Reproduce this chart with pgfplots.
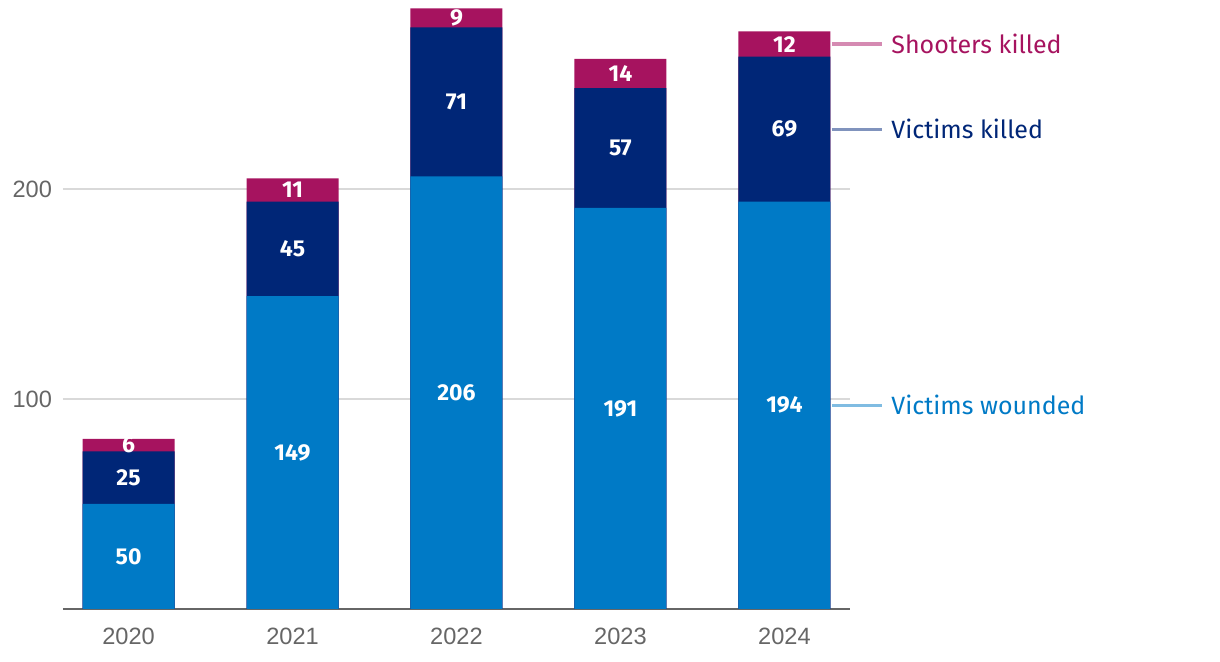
\documentclass[border=0pt]{standalone}
\usepackage{pgfplots}
\pgfplotsset{compat=1.18}
\usepackage{pgfplotstable}
\usepackage{fontspec}
\setmainfont{Liberation Sans}
\newfontfamily\lab{Fira Sans}
\definecolor{cwound}{HTML}{007AC6}
\definecolor{ckill}{HTML}{002677}
\definecolor{cshoot}{HTML}{A6135F}
\definecolor{lwound}{HTML}{80BCE2}
\definecolor{lkill}{HTML}{8093BD}
\definecolor{lshoot}{HTML}{D58AB2}
\definecolor{tickgray}{HTML}{666666}
\definecolor{gridgray}{HTML}{D9D9D9}

\pgfplotstableread{
x w k s
0 50 25 6
1 149 45 11
2 206 71 9
3 191 57 14
4 194 69 12
}\data

\begin{document}
\begin{tikzpicture}[x=1pt,y=1pt]
\path[use as bounding box] (-31.5,-26.5) rectangle (578.5,304.5);
\begin{axis}[
  at={(0,0)}, anchor=south west,
  scale only axis, width=393.5pt, height=304.5pt,
  xmin=-0.4, xmax=4.4, ymin=0, ymax=290,
  clip=false,
  /pgf/number format/assume math mode=true,
  axis x line*=bottom, axis y line*=left,
  x axis line style={draw=tickgray, line width=1pt, -},
  y axis line style={draw=none},
  tick style={draw=none},
  xtick={0,1,2,3,4}, xticklabels={2020,2021,2022,2023,2024},
  ytick={100,200},
  ymajorgrids, grid style={gridgray, line width=0.6pt},
  ticklabel style={text=tickgray, font=\fontsize{11.8}{14}\selectfont},
  xticklabel style={yshift=-6pt},
  yticklabel style={xshift=-2pt},
]
\addplot[ybar, bar width=46pt, bar shift=0pt, fill=cshoot, draw=none]
  table[x=x, y expr=\thisrow{w}+\thisrow{k}+\thisrow{s}] {\data};
\addplot[ybar, bar width=46pt, bar shift=0pt, fill=ckill, draw=none]
  table[x=x, y expr=\thisrow{w}+\thisrow{k}] {\data};
\addplot[ybar, bar width=46pt, bar shift=0pt, fill=cwound, draw=none]
  table[x=x, y=w] {\data};

\pgfplotsset{labstyle/.style={only marks, mark=*, mark size=0pt, mark options={draw=none, fill=none},
  nodes near coords, point meta=explicit symbolic,
  nodes near coords style={anchor=center, text=white, font=\lab\bfseries\fontsize{11.5}{13}\selectfont}}}
\addplot[labstyle] table[x=x, y expr=\thisrow{w}/2, meta=w] {\data};
\addplot[labstyle] table[x=x, y expr=\thisrow{w}+\thisrow{k}/2, meta=k] {\data};
\addplot[labstyle] table[x=x, y expr=\thisrow{w}+\thisrow{k}+\thisrow{s}/2, meta=s] {\data};

\draw[lshoot, line width=1.6pt] (axis cs:4.289,269) -- (axis cs:4.594,269);
\draw[lkill, line width=1.6pt] (axis cs:4.289,228.5) -- (axis cs:4.594,228.5);
\draw[lwound, line width=1.6pt] (axis cs:4.289,97) -- (axis cs:4.594,97);
\node[anchor=west, text=cshoot, font=\lab\fontsize{12.5}{14}\selectfont, inner sep=0pt] at (axis cs:4.65,269) {Shooters killed};
\node[anchor=west, text=ckill, font=\lab\fontsize{12.5}{14}\selectfont, inner sep=0pt] at (axis cs:4.65,228.5) {Victims killed};
\node[anchor=west, text=cwound, font=\lab\fontsize{12.5}{14}\selectfont, inner sep=0pt] at (axis cs:4.65,97) {Victims wounded};
\end{axis}
\end{tikzpicture}
\end{document}
